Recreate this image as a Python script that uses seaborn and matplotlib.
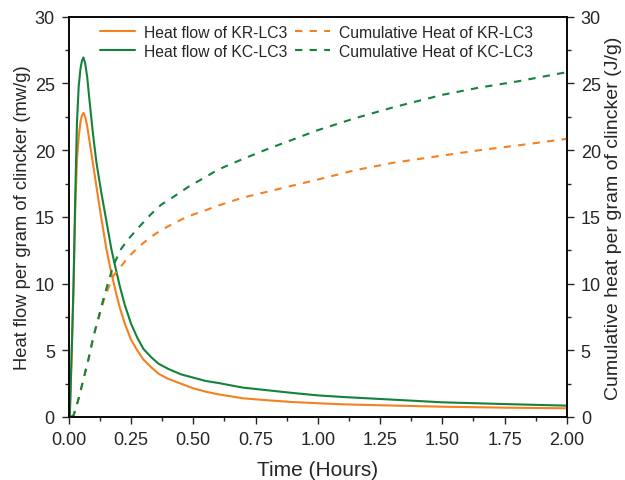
import numpy as np
import pandas as pd
import matplotlib
matplotlib.use('Agg')
import matplotlib.pyplot as plt
import seaborn as sns
from matplotlib.ticker import MultipleLocator

sns.set_style('ticks')
plt.rcParams['font.family'] = ['Liberation Sans', 'DejaVu Sans']

# heat flow (mW/g)
t_flow = [0.004, 0.012, 0.019, 0.026, 0.033, 0.040, 0.047, 0.053, 0.059, 0.066,
          0.074, 0.084, 0.098, 0.111, 0.13, 0.151, 0.171, 0.19, 0.205, 0.225,
          0.25, 0.275, 0.3, 0.33, 0.36, 0.4, 0.45, 0.5, 0.55, 0.6,
          0.7, 0.8, 0.9, 1.0, 1.1, 1.25, 1.5, 1.75, 2.0]
flow_kr = [0, 4.8, 9.5, 15.5, 19.3, 21.0, 22.1, 22.6, 22.8, 22.5,
           21.8, 20.6, 18.9, 17.3, 15.0, 12.6, 10.8, 9.3, 8.2, 7.0,
           5.8, 5.0, 4.3, 3.75, 3.25, 2.85, 2.5, 2.15, 1.9, 1.7,
           1.4, 1.25, 1.12, 1.03, 0.95, 0.88, 0.77, 0.7, 0.65]
flow_kc = [0, 5.0, 9.8, 16.5, 22.1, 24.8, 26.1, 26.7, 26.95, 26.5,
           25.5, 23.6, 21.1, 19.1, 16.9, 14.7, 12.6, 11.0, 9.8, 8.4,
           7.0, 5.95, 5.1, 4.5, 4.0, 3.6, 3.2, 2.95, 2.7, 2.55,
           2.2, 2.0, 1.8, 1.62, 1.5, 1.35, 1.1, 0.97, 0.85]

# cumulative heat (J/g)
t_cum = [0.01, 0.02, 0.04, 0.06, 0.08, 0.10, 0.12, 0.14, 0.16, 0.18,
         0.21, 0.24, 0.28, 0.33, 0.37, 0.42, 0.48, 0.55, 0.6, 0.7,
         0.8, 0.9, 1.0, 1.15, 1.3, 1.5, 1.65, 1.8, 2.0]
cum_kr = [0, 0.15, 1.4, 2.9, 4.4, 6.1, 7.4, 8.7, 9.7, 10.6,
          11.3, 12.0, 12.75, 13.5, 14.0, 14.5, 15.05, 15.5, 15.85, 16.45,
          16.9, 17.35, 17.8, 18.5, 19.05, 19.6, 20.0, 20.35, 20.85]
cum_kc = [0, 0.15, 1.4, 2.9, 4.4, 6.1, 7.5, 8.9, 10.2, 11.4,
          12.6, 13.35, 14.2, 15.2, 15.9, 16.5, 17.25, 18.0, 18.55, 19.35,
          20.1, 20.8, 21.5, 22.4, 23.2, 24.15, 24.7, 25.15, 25.85]

orange = '#F5801F'
green = '#13823C'

fig = plt.figure(figsize=(6.25, 4.81), dpi=100)
ax = fig.add_axes([0.110, 0.131, 0.797, 0.832])
ax2 = ax.twinx()

sns.lineplot(x=t_flow, y=flow_kr, ax=ax, color=orange, lw=1.5, label='Heat flow of KR-LC3')
sns.lineplot(x=t_flow, y=flow_kc, ax=ax, color=green, lw=1.5, label='Heat flow of KC-LC3')
sns.lineplot(x=t_cum, y=cum_kr, ax=ax2, color=orange, lw=1.5, dashes=False,
             linestyle=(0, (3.5, 3.5)), label='Cumulative Heat of KR-LC3')
sns.lineplot(x=t_cum, y=cum_kc, ax=ax2, color=green, lw=1.5, dashes=False,
             linestyle=(0, (3.5, 3.5)), label='Cumulative Heat of KC-LC3')

h1, l1 = ax.get_legend_handles_labels()
h2, l2 = ax2.get_legend_handles_labels()
ax.get_legend().remove()
ax2.get_legend().remove()
ax.legend(h1 + h2, l1 + l2, ncol=2, frameon=False, fontsize=11.3,
          loc='upper left', bbox_to_anchor=(0.035, 1.015), handlelength=2.2,
          columnspacing=0.5, labelspacing=0.25, handletextpad=0.6)

for a in (ax, ax2):
    a.set_xlim(0, 2)
    a.set_ylim(0, 30)
    a.yaxis.set_major_locator(MultipleLocator(5))
    a.yaxis.set_minor_locator(MultipleLocator(2.5))
    a.xaxis.set_major_locator(MultipleLocator(0.25))
    a.xaxis.set_minor_locator(MultipleLocator(0.125))
    a.tick_params(which='major', direction='out', length=5, width=1, labelsize=13, pad=5)
    a.tick_params(which='minor', direction='out', length=3, width=1)
    for s in a.spines.values():
        s.set_linewidth(1.1)
        s.set_color('black')
    a.set_ylabel('')

ax.xaxis.set_major_formatter(matplotlib.ticker.FormatStrFormatter('%.2f'))
ax.set_xlabel('Time (Hours)', fontsize=15, labelpad=9)
ax.set_ylabel('Heat flow per gram of clincker (mw/g)', fontsize=13.2, labelpad=3)
ax2.set_ylabel('Cumulative heat per gram of clincker (J/g)', fontsize=14, labelpad=3)

fig.savefig('out.png', dpi=100)
